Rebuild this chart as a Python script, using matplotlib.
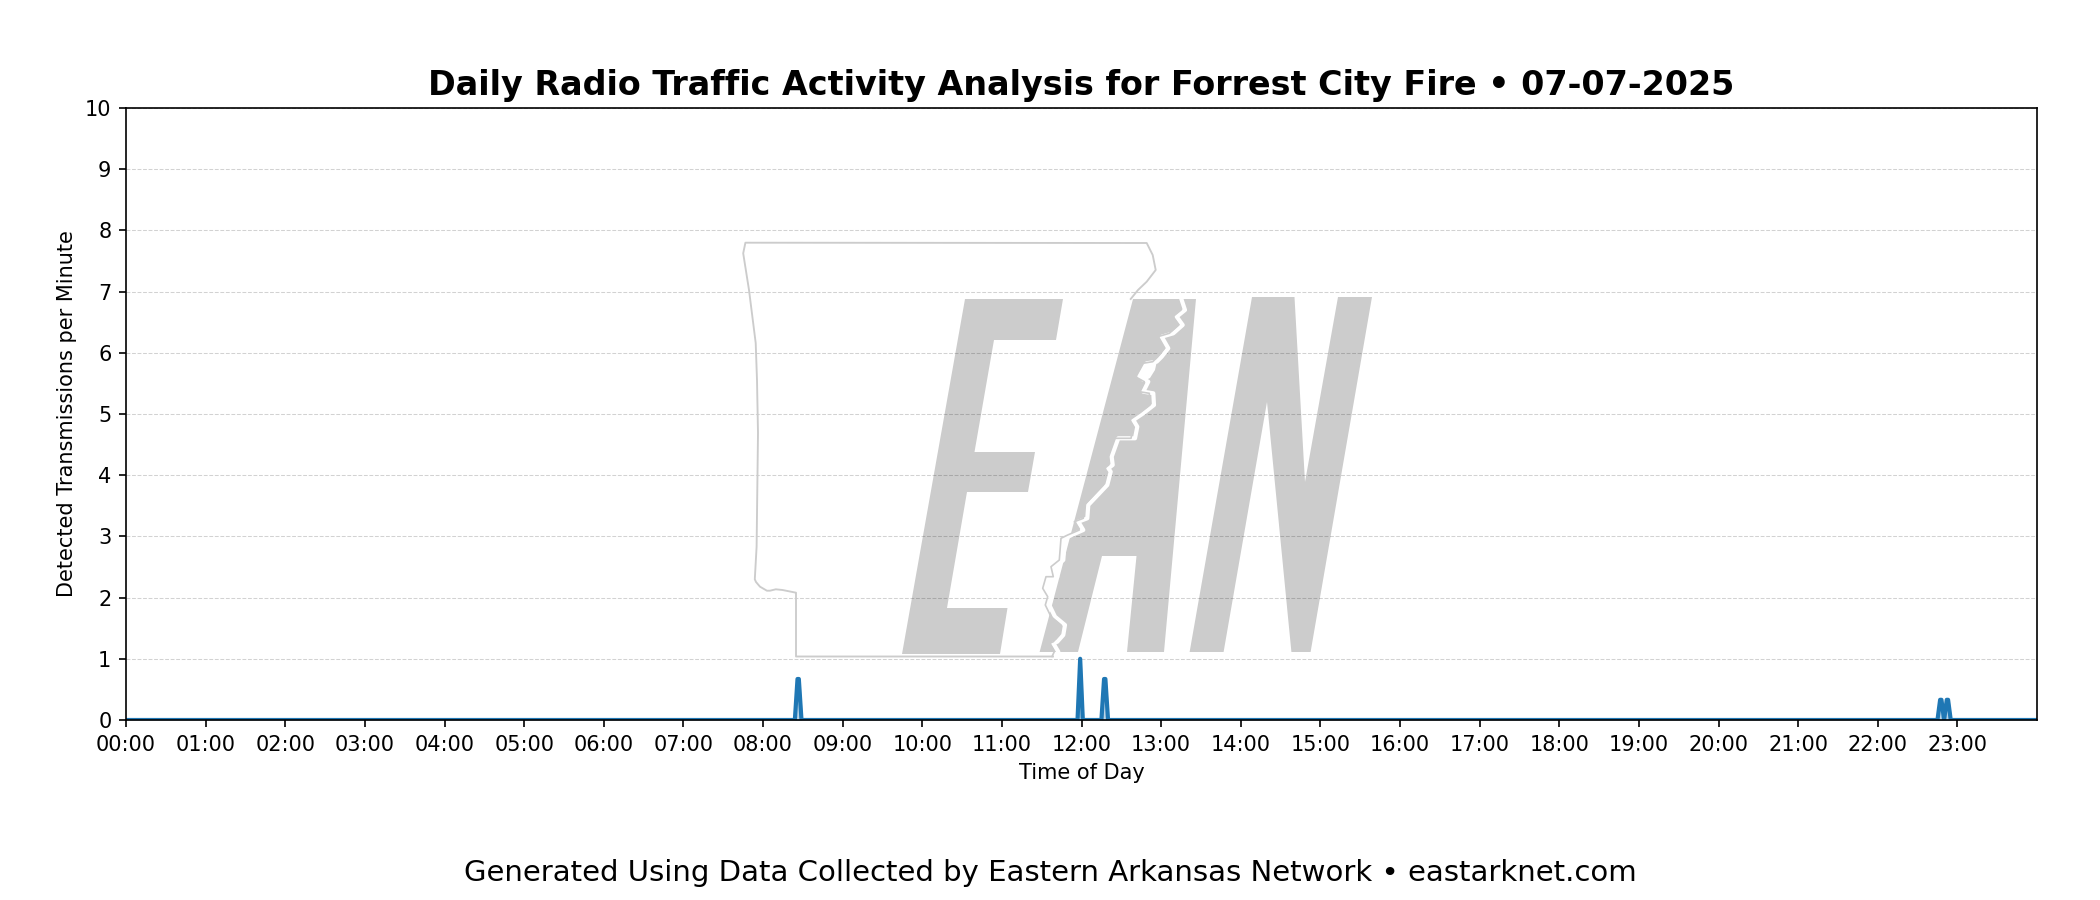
import matplotlib
matplotlib.use('Agg')
import matplotlib.pyplot as plt
from matplotlib.path import Path
from matplotlib.patches import PathPatch, Polygon

# minutes since midnight and transmissions per minute (smoothed)
minutes = [0, 504, 506, 507, 509, 717, 719, 721, 735, 737, 738, 740, 1365, 1367, 1368, 1370, 1372, 1373, 1375, 1440]
rate = [0, 0, 0.67, 0.67, 0, 0, 1, 0, 0, 0.67, 0.67, 0, 0, 0.33, 0.33, 0, 0.33, 0.33, 0, 0]

hours = list(range(24))
hour_labels = ['%02d:00' % h for h in hours]
y_ticks = list(range(11))

title = 'Daily Radio Traffic Activity Analysis for Forrest City Fire \u2022 07-07-2025'
footer = 'Generated Using Data Collected by Eastern Arkansas Network \u2022 eastarknet.com'

# watermark logo, traced in figure pixels
letter_e = [(965, 299), (1063, 299), (1056, 340), (994, 340), (974.5, 452), (1035, 452), (1028, 492), (967, 492),
            (947, 608), (1007.5, 608), (1000, 654), (902, 654)]
letter_a = [(1133, 299), (1196, 299), (1164, 652), (1127, 652), (1136.5, 556), (1102, 556), (1078, 652), (1039.6, 652)]
letter_a_hole = [(1157, 341), (1142, 515), (1111, 515)]
letter_n = [(1252, 297), (1294.5, 297), (1305, 482), (1338, 297), (1372, 297), (1310.6, 652), (1291.4, 652),
            (1267, 402), (1223.6, 652), (1189.6, 652)]
state_west = [(1053, 656.5), (796, 656.5), (796, 592.7), (782.5, 590), (775.8, 589.3), (770, 590.7), (766.9, 590.7), (760, 586.7),
              (756, 582), (754.8, 579.3), (756.6, 546.7), (758, 433), (757, 380), (755.7, 343), (749, 290), (743.2, 253.3), (745.4, 242.7),
              (1146.7, 243), (1152.7, 255), (1155.7, 270), (1146.7, 281.7), (1138, 290), (1130.7, 299)]
river = [(1181.7, 300), (1185, 310), (1176.7, 316.7), (1182.7, 325), (1173.3, 333.3), (1161.7, 336.7), (1168.3, 348.3),
         (1161.7, 356.7), (1156.7, 361.7), (1146.7, 363.3), (1139.3, 376.7), (1148.3, 381.7), (1143.3, 391.7),
         (1153.3, 393.3), (1154, 405), (1143.3, 413.3), (1133.3, 420), (1137.3, 426.7), (1135, 438.3), (1118.3, 438.3),
         (1111.7, 456.7), (1112.7, 465), (1108.3, 468.3), (1110.7, 471.7), (1107.3, 485), (1088.3, 505), (1087.3, 518.3),
         (1078.3, 521.7), (1083.3, 530), (1071.7, 535), (1065, 538.3), (1063.3, 560), (1055, 566.7), (1057.3, 576.7),
         (1050, 576.7), (1046.7, 588.3), (1051.7, 596.7), (1049.3, 605), (1055, 616.7), (1065, 625), (1063.3, 635),
         (1057.3, 641.7), (1053.3, 643.3), (1058.3, 651.7), (1056, 656.5)]
river_blob = [(1157, 361), (1147, 362), (1140, 374), (1142, 382), (1150, 378), (1155, 370)]

fig = plt.figure(figsize=(14, 6), dpi=150)
ax = fig.add_axes([126 / 2100, 1 - 720 / 900, (2037 - 126) / 2100, (720 - 108) / 900])

ax.plot(minutes, rate, color='#1f77b4', linewidth=2)
ax.fill_between(minutes, rate, color='#1f77b4', alpha=0.3)
ax.set_xlim(0, 1440)
ax.set_ylim(0, 10)
ax.set_xticks([h * 60 for h in hours])
ax.set_xticklabels(hour_labels, fontsize=10)
ax.set_yticks(y_ticks)
ax.tick_params(axis='y', labelsize=10)
ax.grid(axis='y', linestyle='--', linewidth=0.5, color='gray', alpha=0.35)
ax.set_xlabel('Time of Day', fontsize=10)
ax.set_ylabel('Detected Transmissions per Minute', fontsize=10)
ax.set_title(title, fontsize=16, fontweight='bold', pad=6)
fig.text(0.5, 0.03, footer, ha='center', va='center', fontsize=14)

# logo overlay
lg = fig.add_axes([0, 0, 1, 1], zorder=3)
lg.set_xlim(0, 2100)
lg.set_ylim(900, 0)
lg.axis('off')
for shape in [letter_e, letter_n]:
    lg.add_patch(Polygon(shape, closed=True, facecolor='black', alpha=0.2, edgecolor='none'))
verts = letter_a + [letter_a[0]] + letter_a_hole + [letter_a_hole[0]]
codes = [Path.MOVETO] + [Path.LINETO] * (len(letter_a) - 1) + [Path.CLOSEPOLY]
codes += [Path.MOVETO] + [Path.LINETO] * (len(letter_a_hole) - 1) + [Path.CLOSEPOLY]
lg.add_patch(PathPatch(Path(verts, codes), facecolor='black', alpha=0.2, edgecolor='none'))

rx = [p[0] for p in river]
ry = [p[1] for p in river]
lg.plot(rx, ry, color='white', linewidth=2)
lg.add_patch(Polygon(river_blob, closed=True, facecolor='white', edgecolor='none'))
lg.plot([x - 4 for x in rx], ry, color='#cccccc', linewidth=0.8)
lg.plot([p[0] for p in state_west], [p[1] for p in state_west], color='#cccccc', linewidth=0.9)

fig.savefig('out.png', dpi=150)
